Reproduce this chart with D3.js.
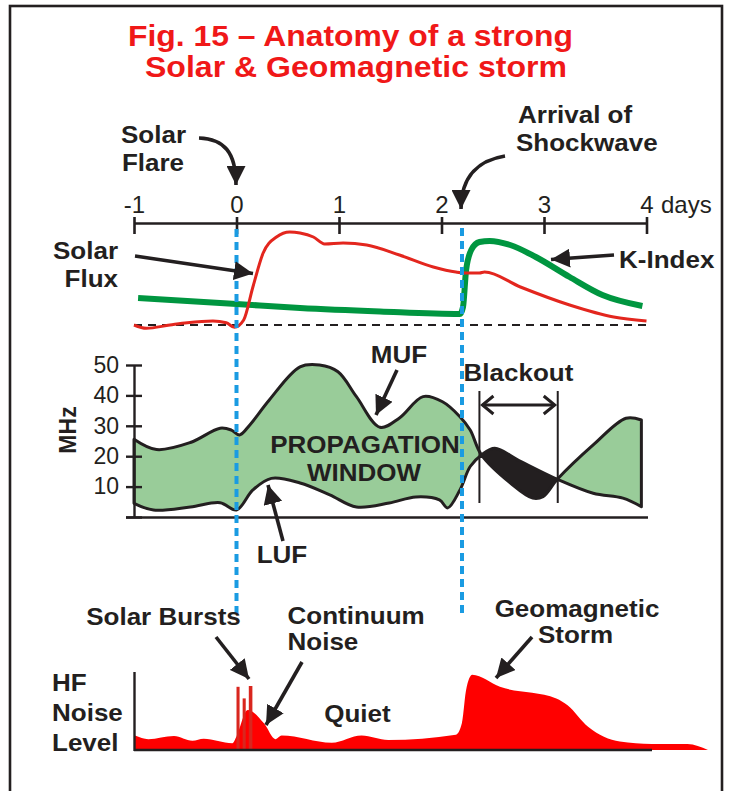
<!DOCTYPE html>
<html><head><meta charset="utf-8">
<script src="https://cdn.jsdelivr.net/npm/d3@7"></script>
<style>
body{margin:0;background:#fff}
svg{display:block}
text{font-family:"Liberation Sans",Arial,Helvetica,sans-serif}
</style>
</head><body>
<svg id="c" width="734" height="791"></svg>
<script>
// ---------------- DATA ----------------
const dayTicks = [-1, 0, 1, 2, 3, 4];
const dayTickLabels = ["-1", "0", "1", "2", "3", "4"];
const mhzTicks = [0, 10, 20, 30, 40, 50];

// Solar flux (relative units above quiet baseline)
const fluxDays   = [-1.0, -0.88, -0.65, -0.48, -0.23, -0.10, -0.02, 0.07, 0.16, 0.26, 0.39, 0.52, 0.62, 0.75, 0.86, 1.04, 1.27, 1.59, 1.92, 2.14, 2.24, 2.37, 2.42, 2.77, 3.25, 3.68, 4.0];
const fluxValues = [0, -3.3, 0, 2.3, 4, 2.3, -2.3, 5, 38, 72, 88, 93, 92, 88, 81, 82, 80, 70, 58, 53, 52, 52, 53, 38, 20, 8, 4];

// K-Index (relative units)
const kDays   = [-0.96, 0, 0.62, 1.4, 2.18, 2.21, 2.24, 2.29, 2.37, 2.47, 2.67, 2.92, 3.25, 3.57, 3.96];
const kValues = [27, 21, 17, 13.5, 11, 18, 55, 75, 83, 84, 80, 68, 48, 30, 19];

// MUF / LUF in MHz
const mufDays   = [-1.0, -0.78, -0.45, -0.16, -0.05, 0.03, 0.13, 0.32, 0.62, 0.81, 0.99, 1.17, 1.40, 1.59, 1.82, 2.01, 2.18, 2.28, 2.39, 2.67, 2.89, 2.99, 3.13, 3.48, 3.80, 3.95];
const mufValues = [25.6, 22.2, 24.5, 29.2, 28.6, 27.0, 30.3, 38.5, 49.4, 50.0, 47.8, 39.6, 29.5, 32.6, 39.6, 37.9, 33.0, 28.6, 20.4, 11.2, 6.2, 6.7, 12.4, 23.7, 32.5, 31.9];
const lufDays   = [-1.0, -0.81, -0.45, -0.16, 0.0, 0.16, 0.34, 0.62, 0.91, 1.17, 1.49, 1.75, 1.98, 2.06, 2.18, 2.28, 2.39, 2.52, 2.76, 3.13, 3.48, 3.77, 3.95];
const lufValues = [4.5, 2.3, 3.3, 4.7, 2.3, 8.9, 12.7, 11.2, 7.3, 3.3, 4.6, 6.6, 5.6, 3.0, 8.9, 16.6, 20.4, 22.6, 18.5, 12.4, 7.8, 6.2, 3.4];

// Blackout interval (days)
const blackoutStart = 2.37;
const blackoutEnd = 3.134;

// Events (days)
const flareDay = 0.0;
const shockDay = 2.2;

// HF noise level (relative units)
const noiseDays   = [-0.99, -0.86, -0.61, -0.43, -0.32, -0.04, 0.0, 0.11, 0.27, 0.38, 0.44, 0.93, 1.22, 1.48, 2.14, 2.20, 2.24, 2.30, 2.57, 3.12, 3.23, 3.43, 3.74, 4.05, 4.40, 4.60];
const noiseValues = [1.8, 1.35, 1.75, 1.15, 1.4, 0.85, 1.7, 5.0, 3.3, 1.35, 1.8, 0.9, 1.8, 1.25, 1.9, 3.4, 7.5, 9.4, 7.9, 6.45, 5.6, 2.9, 1.05, 0.75, 0.75, 0];

// Solar radio bursts
const burstStart = [0.0, 0.06, 0.12];
const burstEnd   = [0.03, 0.09, 0.155];
const burstLevel = [7.9, 6.45, 8.0];

// ---------------- DRAWING ----------------
const dark = "#231f20";
const svg = d3.select("#c");

const x = d3.scaleLinear().domain([-1, 4]).range([134, 646.5]);
const topY = d3.scaleLinear().domain([0, 100]).range([325, 225]);
const mhzY = d3.scaleLinear().domain([0, 50]).range([517, 365]);
const noiseY = d3.scaleLinear().domain([0, 10]).range([750, 670]);

// defs
const defs = svg.append("defs");
defs.append("marker").attr("id", "tri")
  .attr("viewBox", "0 0 10 10").attr("refX", 10).attr("refY", 5)
  .attr("markerUnits", "userSpaceOnUse").attr("markerWidth", 19).attr("markerHeight", 19)
  .attr("orient", "auto")
  .append("path").attr("d", "M0,0 L10,5 L0,10 Z").attr("fill", dark);

const cg = defs.append("clipPath").attr("id", "greenClip");
cg.append("rect").attr("x", 100).attr("y", 330).attr("width", x(blackoutStart + 0.02) - 100).attr("height", 200);
cg.append("rect").attr("x", x(blackoutEnd)).attr("y", 330).attr("width", 700 - x(blackoutEnd)).attr("height", 200);
const cb = defs.append("clipPath").attr("id", "blackClip");
cb.append("rect").attr("x", x(blackoutStart + 0.02)).attr("y", 330).attr("width", x(blackoutEnd) - x(blackoutStart + 0.02)).attr("height", 200);

// frame
svg.append("rect").attr("x", 10).attr("y", 6).attr("width", 712).attr("height", 820)
  .attr("fill", "none").attr("stroke", dark).attr("stroke-width", 2.6);

// measure width of a string at a given size (bold)
function measure(s, size) {
  const t = svg.append("text").attr("font-size", size).attr("font-weight", "bold").text(s);
  const w = t.node().getComputedTextLength();
  t.remove();
  return w;
}

// multi-line text helper (one text element, one tspan per line)
function multi(lines, xs, ys, anchor, size, weight, fill, lens) {
  const t = svg.append("text").attr("text-anchor", anchor).attr("font-size", size)
    .attr("font-weight", weight).attr("fill", fill);
  lines.forEach((s, i) => {
    const ts = t.append("tspan").attr("x", xs[i]).attr("y", ys[i]).text(s);
    if (lens) ts.attr("textLength", lens[i]).attr("lengthAdjust", "spacingAndGlyphs");
  });
  return t;
}

// title
multi(["Fig. 15 \u2013 Anatomy of a strong", "Solar & Geomagnetic storm"], [350.5, 356], [46, 77],
  "middle", 29, "bold", "#f01818", [445, 422]);

// ---- top panel: day axis
const dayAxis = d3.axisTop(x).tickValues(dayTicks).tickFormat((d, i) => dayTickLabels[i])
  .tickSizeInner(-11).tickSizeOuter(0).tickPadding(10.5);
const ga = svg.append("g").attr("transform", "translate(0,223)").call(dayAxis);
ga.select(".domain").attr("stroke", dark).attr("stroke-width", 2.6);
ga.selectAll(".tick line").attr("stroke", dark).attr("stroke-width", 2.6).attr("y1", -6);
ga.selectAll(".tick text").attr("font-size", 24).attr("fill", dark).attr("font-family", "Liberation Sans, Arial, sans-serif");
svg.append("text").attr("x", 661).attr("y", 212.5).attr("font-size", 24).attr("fill", dark).text("days");

// dashed baseline
svg.append("line").attr("x1", x(-1)).attr("x2", x(4)).attr("y1", topY(0)).attr("y2", topY(0))
  .attr("stroke", dark).attr("stroke-width", 1.8).attr("stroke-dasharray", "8,6");

const kLine = d3.line().x((d, i) => x(kDays[i])).y(d => topY(d)).curve(d3.curveMonotoneX);
svg.append("path").attr("d", kLine(kValues)).attr("fill", "none").attr("stroke", "#009640").attr("stroke-width", 6);
const fLine = d3.line().x((d, i) => x(fluxDays[i])).y(d => topY(d)).curve(d3.curveMonotoneX);
svg.append("path").attr("d", fLine(fluxValues)).attr("fill", "none").attr("stroke", "#e3261e").attr("stroke-width", 3);

// ---- middle panel: propagation window
const mufPts = mufDays.map((d, i) => [d, mufValues[i]]);
const lufPts = lufDays.map((d, i) => [d, lufValues[i]]);
const ml = d3.line().x(p => x(p[0])).y(p => mhzY(p[1])).curve(d3.curveCatmullRom.alpha(0.5));
const polyD = ml(mufPts) + "L" + ml(lufPts.slice().reverse()).slice(1) + "Z";
svg.append("path").attr("d", polyD).attr("fill", "#99cc99").attr("clip-path", "url(#greenClip)");
svg.append("path").attr("d", polyD).attr("fill", dark).attr("clip-path", "url(#blackClip)");
svg.append("path").attr("d", polyD).attr("fill", "none").attr("stroke", dark).attr("stroke-width", 3).attr("stroke-linejoin", "round");

// MHz axis
const mAxis = d3.axisLeft(mhzY).tickValues(mhzTicks).tickFormat(d => d === 0 ? "" : d)
  .tickSizeInner(8).tickSizeOuter(0).tickPadding(7);
const gm = svg.append("g").attr("transform", "translate(134,0)").call(mAxis);
gm.select(".domain").attr("stroke", dark).attr("stroke-width", 2.4);
gm.selectAll(".tick line").attr("stroke", dark).attr("stroke-width", 2.4).attr("x2", 8).attr("x1", -8);
gm.selectAll(".tick text").attr("font-size", 23).attr("fill", dark).attr("font-family", "Liberation Sans, Arial, sans-serif");
svg.append("line").attr("x1", 126).attr("x2", 648).attr("y1", mhzY(0) + 0.5).attr("y2", mhzY(0) + 0.5)
  .attr("stroke", dark).attr("stroke-width", 2.4);
svg.append("text").attr("transform", "translate(76,430) rotate(-90)").attr("text-anchor", "middle")
  .attr("font-size", 23).attr("font-weight", "bold").attr("fill", dark).text("MHz");

// blackout markers
[blackoutStart, blackoutEnd].forEach(d => svg.append("line").attr("x1", x(d)).attr("x2", x(d))
  .attr("y1", 391).attr("y2", 503).attr("stroke", dark).attr("stroke-width", 2));
const bx0 = x(blackoutStart) + 3, bx1 = x(blackoutEnd) - 3, by = 405;
svg.append("line").attr("x1", bx0).attr("x2", bx1).attr("y1", by).attr("y2", by).attr("stroke", dark).attr("stroke-width", 3);
svg.append("path").attr("d", `M${bx0 + 11},${by - 9} L${bx0},${by} L${bx0 + 11},${by + 9}`).attr("fill", "none").attr("stroke", dark).attr("stroke-width", 3);
svg.append("path").attr("d", `M${bx1 - 11},${by - 9} L${bx1},${by} L${bx1 - 11},${by + 9}`).attr("fill", "none").attr("stroke", dark).attr("stroke-width", 3);

// ---- bottom panel: HF noise
const nArea = d3.area().x((d, i) => x(noiseDays[i])).y0(noiseY(0)).y1(d => noiseY(d)).curve(d3.curveMonotoneX);
svg.append("path").attr("d", nArea(noiseValues)).attr("fill", "#ff0000");
burstStart.forEach((s, i) => svg.append("rect").attr("x", x(s)).attr("width", x(burstEnd[i]) - x(s))
  .attr("y", noiseY(burstLevel[i])).attr("height", noiseY(0) - noiseY(burstLevel[i]))
  .attr("fill", "#d9261e"));
svg.append("line").attr("x1", 134).attr("x2", 652).attr("y1", 750).attr("y2", 750).attr("stroke", dark).attr("stroke-width", 2.4);
svg.append("line").attr("x1", 134.5).attr("x2", 134.5).attr("y1", 672).attr("y2", 751).attr("stroke", dark).attr("stroke-width", 2.4);

// blue event lines
svg.append("line").attr("x1", x(flareDay)).attr("x2", x(flareDay)).attr("y1", 229).attr("y2", 618)
  .attr("stroke", "#1a9be2").attr("stroke-width", 4).attr("stroke-dasharray", "8,5");
svg.append("line").attr("x1", x(shockDay)).attr("x2", x(shockDay)).attr("y1", 228).attr("y2", 616)
  .attr("stroke", "#1a9be2").attr("stroke-width", 4).attr("stroke-dasharray", "8,5");

// ---- labels
const labels = [
  [["Solar", "Flare"], [153.5, 153], [143, 170.5], "middle"],
  [["Arrival of", "Shockwave"], [518, 516], [123, 150.5], "start"],
  [["Solar", "Flux"], [118, 118], [259, 287], "end"],
  [["K-Index"], [619], [268], "start"],
  [["MUF"], [399], [362.5], "middle"],
  [["Blackout"], [518.5], [381], "middle"],
  [["PROPAGATION", "WINDOW"], [365, 364], [453, 481], "middle"],
  [["LUF"], [282], [562.5], "middle"],
  [["Solar Bursts"], [163.5], [625], "middle"],
  [["Continuum", "Noise"], [287.5, 287.5], [623.5, 650], "start"],
  [["Geomagnetic", "Storm"], [577, 575.5], [616.5, 643], "middle"],
  [["Quiet"], [357.5], [721.5], "middle"],
  [["HF", "Noise", "Level"], [52, 52, 52], [691, 721, 750.5], "start"]
];
labels.forEach(l => multi(l[0], l[1], l[2], l[3], 23.8, "bold", dark, l[0].map(s => measure(s, 26))));

// ---- arrows
const arrows = [
  "M199,138 C224,139 236,152 236,185",
  "M505,156 C480,160 461,175 461,209",
  "M135,256 L253,273.5",
  "M614,255 L551,259.5",
  "M397,370 L376,415",
  "M283,541 L268,485",
  "M216,637 L249,679",
  "M302,662 L266,725",
  "M532,637 L496,678"
];
arrows.forEach(d => svg.append("path").attr("d", d).attr("fill", "none").attr("stroke", dark)
  .attr("stroke-width", 3.6).attr("marker-end", "url(#tri)"));
</script>
</body></html>
